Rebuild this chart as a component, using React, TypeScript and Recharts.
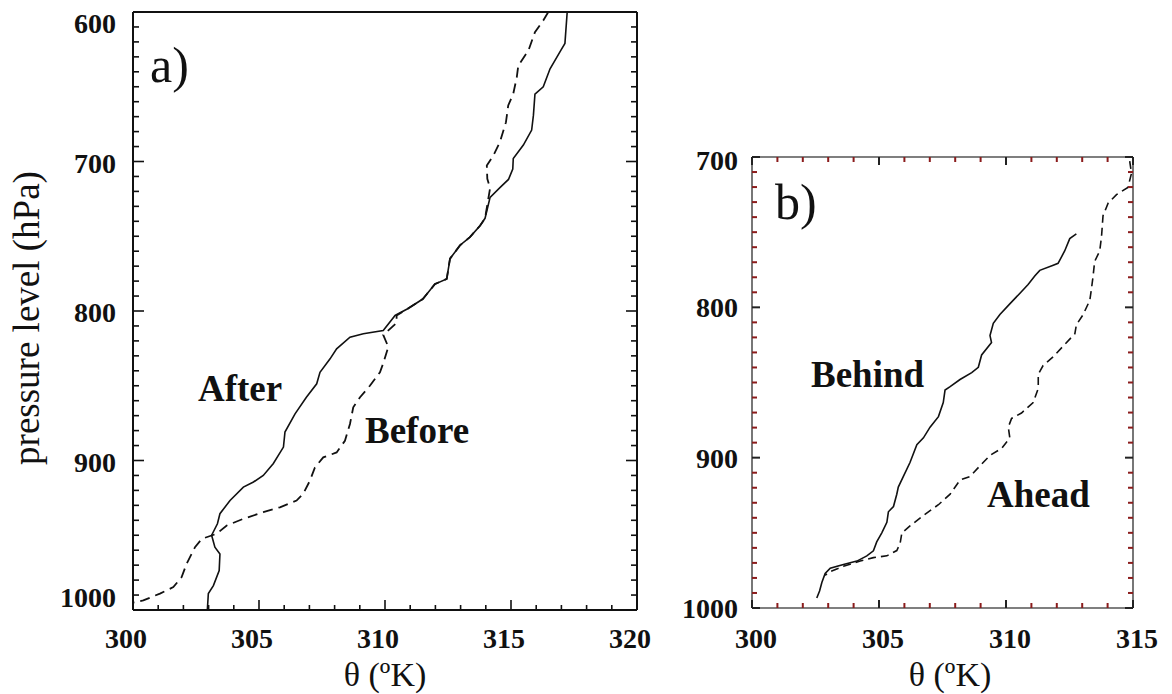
import React from 'react';
import { LineChart, Line, XAxis, YAxis } from 'recharts';

// ---------- Panel a) ----------
const aAfterTheta = [317.23, 317.14, 317.0, 316.55, 316.28, 315.95, 315.89, 315.82, 315.49, 315.09, 315.07, 314.9, 314.56, 314.17, 313.97, 313.77, 313.37, 312.98, 312.58, 312.45, 311.98, 311.5, 310.9, 310.4, 309.93, 309.14, 308.61, 308.08, 307.82, 307.42, 307.29, 306.88, 306.43, 306.03, 305.97, 305.57, 305.17, 304.78, 304.38, 303.85, 303.45, 303.35, 303.12, 303.25, 303.45, 303.42, 303.19, 302.99, 302.95];
const aAfterP = [600, 621, 625, 638, 650, 655, 669, 679, 689, 698, 705, 712, 717.5, 724, 738, 743, 750.6, 756, 765, 778.5, 782, 792, 798.5, 803, 813, 815.2, 817.5, 825.3, 832, 841, 848.7, 857.7, 868.8, 881, 891, 902, 910, 914.4, 917.8, 926.7, 935.6, 942.3, 950, 958, 962.5, 973.6, 983.7, 989, 1000];
const aBeforeTheta = [316.48, 316.28, 315.95, 315.69, 315.29, 315.23, 315.09, 314.89, 314.8, 314.56, 314.3, 314.04, 314.06, 314.17, 313.97, 313.77, 313.37, 312.98, 312.58, 312.45, 311.98, 311.5, 310.9, 310.46, 310.46, 309.93, 310.13, 309.93, 309.8, 309.4, 309.01, 308.74, 308.61, 308.41, 308.08, 307.55, 307.22, 307.02, 306.75, 306.49, 305.83, 305.17, 304.38, 303.72, 303.32, 302.73, 302.46, 302.13, 301.93, 301.6, 301.07, 300.41, 300.0];
const aBeforeP = [600, 605.7, 613.5, 625.8, 635.8, 643.6, 654.7, 662.5, 673.7, 687, 696, 702.7, 711.6, 717.8, 738, 743, 750.6, 756, 765, 778.5, 782, 792, 798.5, 803, 808, 816, 824, 835, 841, 850, 857.7, 864.4, 875.6, 886.8, 894.6, 897.9, 904.6, 913.5, 922.4, 926.8, 931.3, 934.6, 939, 943.5, 949, 952.4, 958, 969, 978, 984.7, 989, 993.6, 995];

// ---------- Panel b) ----------
const bBehindTheta = [312.77, 312.51, 312.31, 312.05, 311.86, 311.33, 311.14, 310.87, 310.55, 310.15, 309.76, 309.5, 309.37, 309.43, 309.04, 308.91, 308.65, 308.19, 307.8, 307.6, 307.53, 307.34, 307.01, 306.75, 306.49, 306.22, 305.96, 305.76, 305.7, 305.57, 305.37, 305.31, 305.11, 304.91, 304.78, 304.52, 304.13, 303.6, 303.08, 302.88, 302.75, 302.66, 302.55];
const bBehindP = [751.2, 754.3, 762.5, 770.7, 772, 775.4, 779, 784.8, 790.6, 797.7, 804.7, 810.6, 818.8, 823.4, 831.7, 839.9, 843.4, 848, 852.8, 855, 863.3, 872.7, 879.7, 886.8, 891.4, 903.2, 912.5, 919.6, 924.3, 932.5, 936, 943, 950, 956, 962, 965.3, 968.8, 971, 973.5, 977, 983, 988.7, 993.4];
const bAheadTheta = [314.87, 314.94, 314.8, 314.35, 314.02, 313.82, 313.76, 313.69, 313.49, 313.43, 313.36, 313.3, 313.04, 312.77, 312.71, 312.25, 311.86, 311.46, 311.27, 311.27, 311.07, 310.61, 310.22, 310.09, 310.15, 309.83, 309.37, 308.97, 308.58, 308.19, 307.8, 307.34, 306.75, 306.22, 305.9, 305.83, 305.7, 305.31, 304.78, 304.26, 303.6, 303.08, 302.88];
const bAheadP = [702.7, 710.9, 720.3, 725, 730.8, 739, 753, 762.5, 769.5, 779, 788.3, 795.3, 804.7, 811.7, 817.6, 825.8, 832.8, 838.7, 844.5, 853.9, 863.3, 870.3, 873.9, 879.7, 886.8, 893.8, 898.5, 905.5, 912.5, 914.9, 924.3, 931.3, 938.4, 945.4, 950.1, 957.1, 961.8, 965.3, 966.5, 968.8, 972.3, 975.8, 978.2];

// ---------- Tick labels ----------
const aXMajor = [300, 305, 310, 315, 320];
const aYMajor = [600, 700, 800, 900, 1000];
const bXMajor = [300, 305, 310, 315];
const bYMajor = [700, 800, 900, 1000];

const zip = (t: number[], p: number[]) => t.map((v, i) => ({ theta: v, p: p[i] }));
const range = (a: number, b: number, step: number) => {
  const r: number[] = [];
  for (let v = a; v <= b + 1e-9; v += step) r.push(Math.round(v * 100) / 100);
  return r;
};

const SERIF = "'Liberation Serif', 'Times New Roman', serif";

type TickCfg = {
  side: 'left' | 'right' | 'bottom' | 'top';
  majors: number[];
  majorLen: number;
  minorLen: number;
  majorColor: string;
  minorColor: string;
  width: number;
  label?: boolean;
  gap?: number;
  dx?: number;
  dyFor?: (v: number) => number;
};

function makeTick(cfg: TickCfg) {
  return (props: any) => {
    const { x, y, payload } = props;
    const v = payload.value as number;
    const major = cfg.majors.includes(v);
    const len = major ? cfg.majorLen : cfg.minorLen;
    const color = major ? cfg.majorColor : cfg.minorColor;
    let x2 = x;
    let y2 = y;
    if (cfg.side === 'left') x2 = x + len;
    if (cfg.side === 'right') x2 = x - len;
    if (cfg.side === 'bottom') y2 = y - len;
    if (cfg.side === 'top') y2 = y + len;
    let label = null;
    if (cfg.label && major) {
      if (cfg.side === 'left') {
        label = (
          <text x={x - (cfg.gap || 0)} y={y + (cfg.dyFor ? cfg.dyFor(v) : 10)} textAnchor="end" fontFamily={SERIF} fontWeight="bold" fontSize={28} fill="#111">
            {v}
          </text>
        );
      } else if (cfg.side === 'bottom') {
        label = (
          <text x={x + (cfg.dx || 0)} y={y + (cfg.gap || 0)} textAnchor="middle" fontFamily={SERIF} fontWeight="bold" fontSize={28} fill="#111">
            {v}
          </text>
        );
      }
    }
    return (
      <g>
        <line x1={x} y1={y} x2={x2} y2={y2} stroke={color} strokeWidth={cfg.width} />
        {label}
      </g>
    );
  };
}

const aData = { after: zip(aAfterTheta, aAfterP), before: zip(aBeforeTheta, aBeforeP) };
const bData = { behind: zip(bBehindTheta, bBehindP), ahead: zip(bAheadTheta, bAheadP) };

function PanelA() {
  const xTicks = range(300, 320, 1);
  const yTicks = range(600, 1000, 10);
  const axisStroke = { stroke: '#111', strokeWidth: 2 };
  return (
    <LineChart width={660} height={694} margin={{ top: 10, right: 20, bottom: 44, left: 33 }}>
      <XAxis xAxisId="b" type="number" dataKey="theta" domain={[300, 320]} ticks={xTicks} interval={0} allowDataOverflow
        height={40} tickSize={0} tickMargin={0} tickLine={false} axisLine={axisStroke}
        tick={makeTick({ side: 'bottom', majors: aXMajor, majorLen: 10, minorLen: 5, majorColor: '#111', minorColor: '#111', width: 1.6, label: true, gap: 38, dx: -7 })} />
      <XAxis xAxisId="t" orientation="top" type="number" dataKey="theta" domain={[300, 320]} ticks={[300, 320]} allowDataOverflow
        height={2} tickSize={0} tickMargin={0} tickLine={false} tick={false} axisLine={axisStroke} />
      <YAxis yAxisId="l" type="number" dataKey="p" domain={[600, 1000]} reversed ticks={yTicks} interval={0} allowDataOverflow
        width={100} tickSize={0} tickMargin={0} tickLine={false} axisLine={axisStroke}
        tick={makeTick({ side: 'left', majors: aYMajor, majorLen: 11, minorLen: 6, majorColor: '#111', minorColor: '#111', width: 1.6, label: true, gap: 17, dyFor: (v) => (v === 600 ? 21 : v === 1000 ? -3 : 11) })} />
      <YAxis yAxisId="r" orientation="right" type="number" dataKey="p" domain={[600, 1000]} reversed ticks={yTicks} interval={0} allowDataOverflow
        width={3} tickSize={0} tickMargin={0} tickLine={false} axisLine={axisStroke}
        tick={makeTick({ side: 'right', majors: aYMajor, majorLen: 11, minorLen: 6, majorColor: '#111', minorColor: '#111', width: 1.6 })} />
      <Line xAxisId="b" yAxisId="l" data={aData.after} dataKey="p" type="linear" stroke="#111" strokeWidth={1.6} dot={false} isAnimationActive={false} />
      <Line xAxisId="b" yAxisId="l" data={aData.before} dataKey="p" type="linear" stroke="#111" strokeWidth={1.8} strokeDasharray="10 6" dot={false} isAnimationActive={false} />
    </LineChart>
  );
}

function PanelB() {
  const xTicks = range(300, 315, 1);
  const yTicks = range(700, 1000, 10);
  const axisStroke = { stroke: '#555', strokeWidth: 1.6 };
  const red = '#8b1c1c';
  return (
    <LineChart width={512} height={694} margin={{ top: 155, right: 36, bottom: 46, left: 32 }}>
      <XAxis xAxisId="b" type="number" dataKey="theta" domain={[300, 315]} ticks={xTicks} interval={0} allowDataOverflow
        height={40} tickSize={0} tickMargin={0} tickLine={false} axisLine={axisStroke}
        tick={makeTick({ side: 'bottom', majors: bXMajor, majorLen: 8, minorLen: 5, majorColor: '#222', minorColor: red, width: 2, label: true, gap: 40, dx: 4 })} />
      <XAxis xAxisId="t" orientation="top" type="number" dataKey="theta" domain={[300, 315]} ticks={xTicks} interval={0} allowDataOverflow
        height={2} tickSize={0} tickMargin={0} tickLine={false} axisLine={axisStroke}
        tick={makeTick({ side: 'top', majors: bXMajor, majorLen: 8, minorLen: 5, majorColor: '#222', minorColor: red, width: 2 })} />
      <YAxis yAxisId="l" type="number" dataKey="p" domain={[700, 1000]} reversed ticks={yTicks} interval={0} allowDataOverflow
        width={60} tickSize={0} tickMargin={0} tickLine={false} axisLine={axisStroke}
        tick={makeTick({ side: 'left', majors: bYMajor, majorLen: 8, minorLen: 5, majorColor: '#222', minorColor: red, width: 2, label: true, gap: 14, dyFor: (v) => (v === 700 ? 13 : 10) })} />
      <YAxis yAxisId="r" orientation="right" type="number" dataKey="p" domain={[700, 1000]} reversed ticks={yTicks} interval={0} allowDataOverflow
        width={3} tickSize={0} tickMargin={0} tickLine={false} axisLine={axisStroke}
        tick={makeTick({ side: 'right', majors: bYMajor, majorLen: 8, minorLen: 5, majorColor: '#222', minorColor: red, width: 2 })} />
      <Line xAxisId="b" yAxisId="l" data={bData.behind} dataKey="p" type="linear" stroke="#111" strokeWidth={1.6} dot={false} isAnimationActive={false} />
      <Line xAxisId="b" yAxisId="l" data={bData.ahead} dataKey="p" type="linear" stroke="#111" strokeWidth={1.6} strokeDasharray="8 5" dot={false} isAnimationActive={false} />
    </LineChart>
  );
}

export default function App() {
  return (
    <div style={{ position: 'absolute', left: 0, top: 0, width: 1172, height: 694, background: '#fff', overflow: 'hidden' }}>
      <div style={{ position: 'absolute', left: 0, top: 0 }}>
        <PanelA />
      </div>
      <div style={{ position: 'absolute', left: 660, top: 0 }}>
        <PanelB />
      </div>
      <svg width={1172} height={694} style={{ position: 'absolute', left: 0, top: 0, pointerEvents: 'none' }}>
        <text transform="translate(39, 318) rotate(-90)" textAnchor="middle" fontFamily={SERIF} fontSize={37} fill="#111">pressure level (hPa)</text>
        <text x={385} y={686} textAnchor="middle" fontFamily={SERIF} fontSize={34} fill="#111">θ (ºK)</text>
        <text x={950} y={686} textAnchor="middle" fontFamily={SERIF} fontSize={34} fill="#111">θ (ºK)</text>
        <text x={150} y={82} fontFamily={SERIF} fontSize={50} fill="#111">a)</text>
        <text x={775} y={219} fontFamily={SERIF} fontSize={50} fill="#111">b)</text>
        <text x={198} y={401} fontFamily={SERIF} fontWeight="bold" fontSize={37} fill="#111">After</text>
        <text x={365} y={443} fontFamily={SERIF} fontWeight="bold" fontSize={37} fill="#111">Before</text>
        <text x={811} y={387} fontFamily={SERIF} fontWeight="bold" fontSize={37} fill="#111">Behind</text>
        <text x={987} y={507} fontFamily={SERIF} fontWeight="bold" fontSize={37} fill="#111">Ahead</text>
      </svg>
    </div>
  );
}
